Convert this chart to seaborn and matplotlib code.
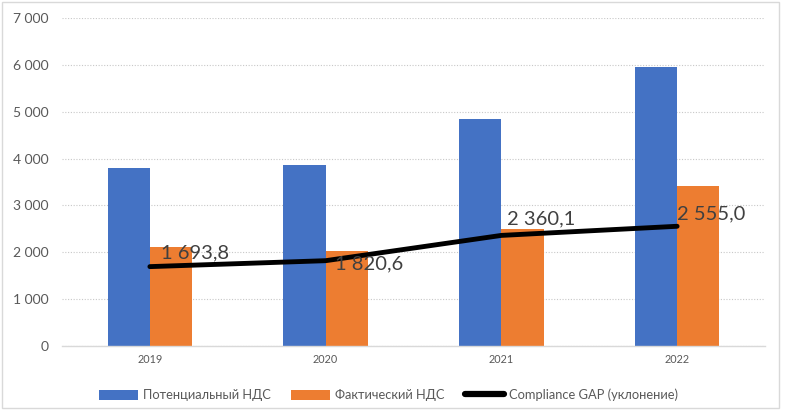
import numpy as np
import pandas as pd
import matplotlib
matplotlib.use('Agg')
import matplotlib.pyplot as plt
import seaborn as sns
from matplotlib.patches import Patch, Rectangle
from matplotlib.lines import Line2D
from matplotlib.ticker import FuncFormatter

# ----------------------------------------------------------------------
# Data
# ----------------------------------------------------------------------
years = ['2019', '2020', '2021', '2022']
potential_vat = [3795, 3860, 4840, 5950]
actual_vat = [2115, 2025, 2490, 3410]
compliance_gap = [1693.8, 1820.6, 2360.1, 2555.0]
series_names = ['Потенциальный НДС', 'Фактический НДС', 'Compliance GAP (уклонение)']
y_ticks = [0, 1000, 2000, 3000, 4000, 5000, 6000, 7000]

df = pd.DataFrame({
    'year': years * 2,
    'value': potential_vat + actual_vat,
    'series': [series_names[0]] * 4 + [series_names[1]] * 4,
})

BLUE = '#4472C4'
ORANGE = '#ED7D31'
TXT = '#595959'

sns.set_theme(style='white')
plt.rcParams['font.family'] = ['Lato', 'DejaVu Sans']

fig = plt.figure(figsize=(7.85, 4.15), dpi=100)
ax = fig.add_axes([0.079, 0.1663, 0.8955, 0.7903])

sns.barplot(data=df, x='year', y='value', hue='series', order=years,
            palette=[BLUE, ORANGE], width=0.48, saturation=1, ax=ax,
            legend=False, errorbar=None, linewidth=0, edgecolor='none')

sns.lineplot(x=np.arange(len(years)), y=compliance_gap, color='black',
             linewidth=3.5, ax=ax, solid_capstyle='round')

# data labels for the gap line (offsets in points)
offsets = [(8, 10), (7, -2), (4, 12), (0, 9)]
for i, (v, off) in enumerate(zip(compliance_gap, offsets)):
    lbl = f'{v:,.1f}'.replace(',', ' ').replace('.', ',')
    ax.annotate(lbl, (i, v), xytext=off, textcoords='offset points',
                ha='left', va='center', fontsize=14.5, color='#404040')

ax.set_xlim(-0.5, 3.5)
ax.set_ylim(0, 7000)
ax.set_yticks(y_ticks)
ax.yaxis.set_major_formatter(FuncFormatter(lambda v, p: f'{int(v):,}'.replace(',', ' ')))
ax.tick_params(axis='y', labelsize=10, labelcolor=TXT, length=0, pad=10)
ax.tick_params(axis='x', labelsize=7.8, labelcolor=TXT, length=0, pad=6)
ax.set_xlabel('')
ax.set_ylabel('')
ax.grid(axis='y', color='#C8C8C8', linestyle=(0, (1, 1.5)), linewidth=0.8)
ax.set_axisbelow(True)
for s in ['left', 'right', 'top']:
    ax.spines[s].set_visible(False)
ax.spines['bottom'].set_color('#D9D9D9')
ax.spines['bottom'].set_linewidth(1)

handles = [Patch(facecolor=BLUE, edgecolor='none'),
           Patch(facecolor=ORANGE, edgecolor='none'),
           Line2D([0], [0], color='black', linewidth=4.5)]
fig.legend(handles, series_names, loc='center', bbox_to_anchor=(0.495, 0.048),
           ncol=3, frameon=False, fontsize=9.3, labelcolor=TXT,
           handlelength=3.0, handleheight=0.9, handletextpad=0.4, columnspacing=1.6)

# thin grey chart border
fig.patches.append(Rectangle((0.002, 0.018), 0.99, 0.978, transform=fig.transFigure,
                             fill=False, edgecolor='#D9D9D9', linewidth=1))

fig.savefig('out.png', dpi=100)
